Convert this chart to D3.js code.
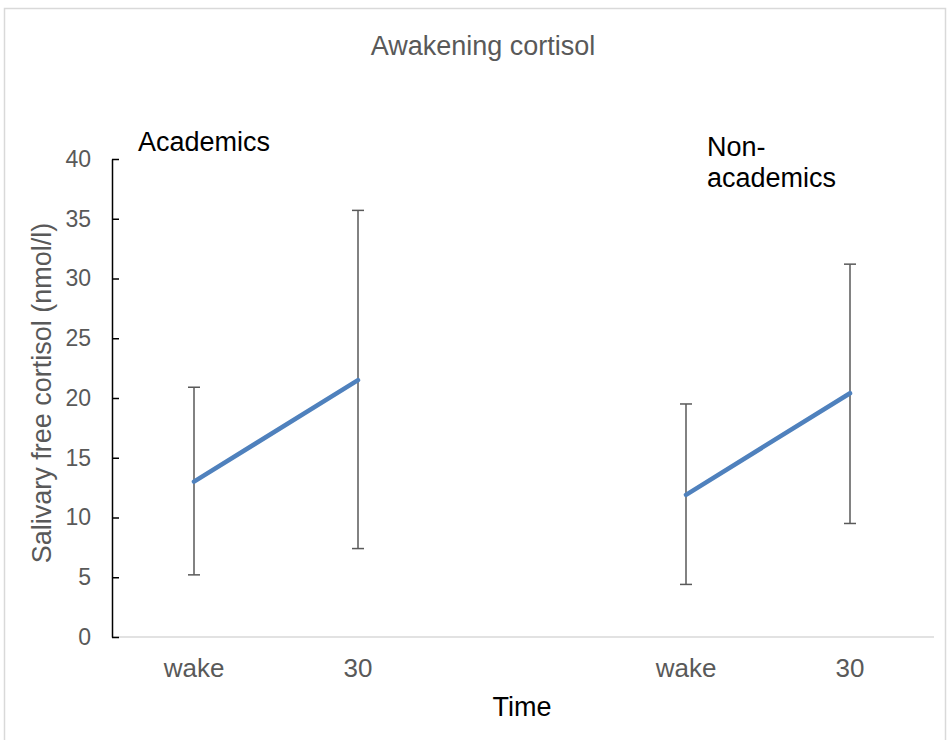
<!DOCTYPE html>
<meta charset="utf-8">
<script src="https://d3js.org/d3.v7.min.js"></script>
<style>
  body { margin: 0; background: #fff; }
  text { font-family: "Liberation Sans", Arial, sans-serif; }
</style>
<div id="my_dataviz"></div>
<script>

// categories along the x axis (middle slot left empty as a spacer)
var categories = ["wake", "30", "", "wake", "30"];
var groups = ["Academics", "Non-academics"];

// means and error bar ends
var academicsMean = [13.0, 21.5];
var academicsLow  = [5.2, 7.4];
var academicsHigh = [20.9, 35.7];
var nonAcadMean = [11.9, 20.4];
var nonAcadLow  = [4.4, 9.5];
var nonAcadHigh = [19.5, 31.2];

var yTicks = [0, 5, 10, 15, 20, 25, 30, 35, 40];

var W = 949, H = 740;
var margin = {top: 159, left: 112, right: 17, bottom: 103};

var svg = d3.select("#my_dataviz")
  .append("svg")
  .attr("width", W)
  .attr("height", H);

// outer chart border
svg.append("rect")
  .attr("x", 4.5).attr("y", 8.5)
  .attr("width", 941).attr("height", 745)
  .attr("fill", "none")
  .attr("stroke", "#d9d9d9")
  .attr("stroke-width", 1.5);

var x = d3.scaleBand()
  .domain(d3.range(categories.length))
  .range([margin.left, W - margin.right])
  .paddingInner(0).paddingOuter(0);

var y = d3.scaleLinear()
  .domain([0, 40])
  .range([H - margin.bottom, margin.top]);

var cx = function(i) { return x(i) + x.bandwidth() / 2; };

// x axis line
svg.append("line")
  .attr("x1", margin.left).attr("x2", W - margin.right + 2)
  .attr("y1", y(0)).attr("y2", y(0))
  .attr("stroke", "#d9d9d9").attr("stroke-width", 1.5);

// category labels
svg.append("g")
  .selectAll("text")
  .data(categories)
  .enter().append("text")
  .attr("x", function(d, i) { return cx(i); })
  .attr("y", 677)
  .attr("text-anchor", "middle")
  .attr("font-size", "26px")
  .attr("fill", "#595959")
  .text(function(d) { return d; });

// y axis
var yAxis = svg.append("g")
  .attr("transform", "translate(" + margin.left + ",0)")
  .call(d3.axisLeft(y).tickValues(yTicks).tickSizeInner(-7).tickSizeOuter(0).tickPadding(21));
yAxis.select(".domain").attr("stroke", "#000").attr("stroke-width", 1.5);
yAxis.selectAll(".tick line").attr("stroke", "#000").attr("stroke-width", 1.5);
yAxis.selectAll(".tick text")
  .attr("font-size", "23px")
  .attr("fill", "#595959")
  .style("font-family", "Liberation Sans, Arial, sans-serif");

// error bars + lines for each group
var series = [
  {name: groups[0], idx: [0, 1], mean: academicsMean, low: academicsLow, high: academicsHigh},
  {name: groups[1], idx: [3, 4], mean: nonAcadMean, low: nonAcadLow, high: nonAcadHigh}
];

series.forEach(function(s) {
  var pts = s.idx.map(function(ci, k) {
    return {x: cx(ci), m: s.mean[k], lo: s.low[k], hi: s.high[k]};
  });

  var eb = svg.append("g").attr("stroke", "#595959").attr("stroke-width", 1.5);
  pts.forEach(function(p) {
    eb.append("line").attr("x1", p.x).attr("x2", p.x).attr("y1", y(p.lo)).attr("y2", y(p.hi));
    eb.append("line").attr("x1", p.x - 6).attr("x2", p.x + 6).attr("y1", y(p.lo)).attr("y2", y(p.lo));
    eb.append("line").attr("x1", p.x - 6).attr("x2", p.x + 6).attr("y1", y(p.hi)).attr("y2", y(p.hi));
  });

  svg.append("path")
    .datum(pts)
    .attr("fill", "none")
    .attr("stroke", "#4f81bd")
    .attr("stroke-width", 4.5)
    .attr("stroke-linecap", "round")
    .attr("d", d3.line().x(function(p) { return p.x; }).y(function(p) { return y(p.m); }));
});

// title
svg.append("text")
  .attr("x", 483).attr("y", 55)
  .attr("text-anchor", "middle")
  .attr("font-size", "27px")
  .attr("fill", "#595959")
  .text("Awakening cortisol");

// group labels
svg.append("text")
  .attr("x", 138).attr("y", 151)
  .attr("font-size", "27px")
  .attr("fill", "#000")
  .text("Academics");

var nl = svg.append("text")
  .attr("x", 707).attr("y", 156)
  .attr("font-size", "27px")
  .attr("fill", "#000");
nl.append("tspan").attr("x", 707).text("Non-");
nl.append("tspan").attr("x", 707).attr("dy", 31).text("academics");

// axis titles
svg.append("text")
  .attr("x", 522).attr("y", 716)
  .attr("text-anchor", "middle")
  .attr("font-size", "27px")
  .attr("fill", "#000")
  .text("Time");

svg.append("text")
  .attr("transform", "translate(51,393) rotate(-90)")
  .attr("text-anchor", "middle")
  .attr("font-size", "27px")
  .attr("fill", "#595959")
  .text("Salivary free cortisol (nmol/l)");

</script>
